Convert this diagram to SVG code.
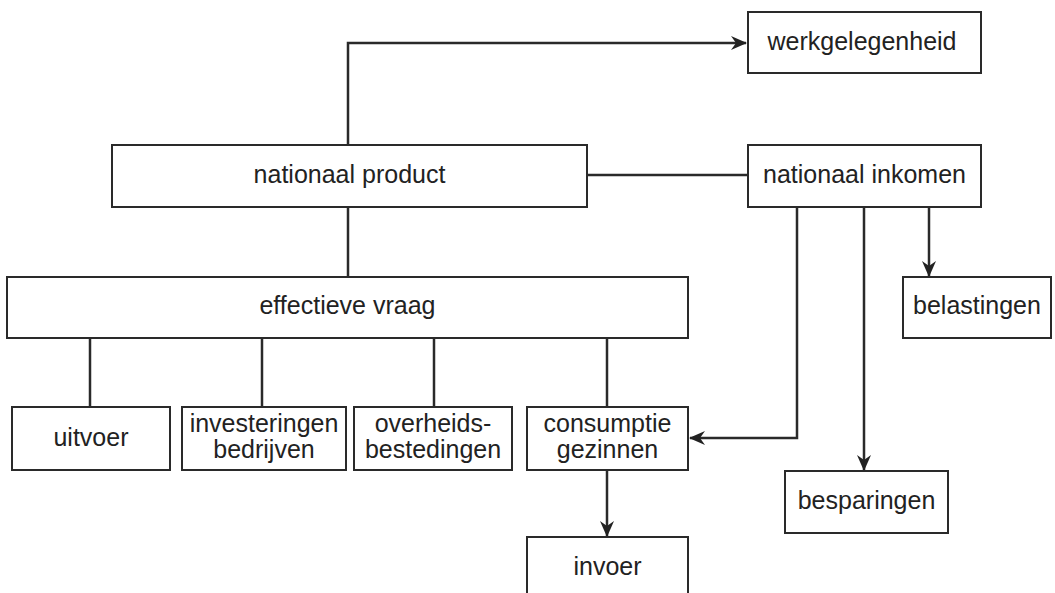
<svg xmlns="http://www.w3.org/2000/svg" width="1055" height="593" viewBox="0 0 1055 593">
<style>
.box{fill:#fff;stroke:#2a2a2a;stroke-width:2}
.lbl{font-family:"Liberation Sans",Arial,sans-serif;font-size:25px;fill:#222;text-anchor:middle}
.ln{fill:none;stroke:#2a2a2a;stroke-width:2.5}
.arr{fill:none;stroke:#2a2a2a;stroke-width:2.5;marker-end:url(#ah)}
</style>
<defs>
<marker id="ah" viewBox="0 0 16 14" refX="15" refY="7" markerWidth="16" markerHeight="14" markerUnits="userSpaceOnUse" orient="auto">
<path d="M0,0 L16,7 L0,14 L5,7 Z" fill="#222"/>
</marker>
</defs>
<rect width="1055" height="593" fill="#fff"/>
<g id="connectors">
<path class="arr" d="M348,145 V43 H746"/>
<path class="ln" d="M348,207 V277"/>
<path class="ln" d="M587,175 H748"/>
<path class="ln" d="M90,338 V407"/>
<path class="ln" d="M262,338 V407"/>
<path class="ln" d="M434,338 V407"/>
<path class="ln" d="M607,338 V407"/>
<path class="arr" d="M797,207 V438 H690"/>
<path class="arr" d="M864,207 V470"/>
<path class="arr" d="M929,207 V276"/>
<path class="arr" d="M607,470 V536"/>
</g>
<g id="werkgelegenheid"><rect class="box" x="748" y="12" width="233" height="61"/><text class="lbl" x="862" y="50">werkgelegenheid</text></g>
<g id="nationaal-product"><rect class="box" x="112" y="145" width="475" height="62"/><text class="lbl" x="349.5" y="183">nationaal product</text></g>
<g id="nationaal-inkomen"><rect class="box" x="748" y="145" width="233" height="62"/><text class="lbl" x="864.5" y="183">nationaal inkomen</text></g>
<g id="effectieve-vraag"><rect class="box" x="7" y="277" width="681" height="61"/><text class="lbl" x="347.5" y="314">effectieve vraag</text></g>
<g id="belastingen"><rect class="box" x="903" y="277" width="148" height="61"/><text class="lbl" x="977" y="314">belastingen</text></g>
<g id="uitvoer"><rect class="box" x="12" y="407" width="158" height="63"/><text class="lbl" x="91" y="446">uitvoer</text></g>
<g id="investeringen-bedrijven"><rect class="box" x="182" y="407" width="164" height="63"/><text class="lbl" x="264" y="432">investeringen</text><text class="lbl" x="264" y="458">bedrijven</text></g>
<g id="overheidsbestedingen"><rect class="box" x="354" y="407" width="158" height="63"/><text class="lbl" x="433" y="432">overheids-</text><text class="lbl" x="433" y="458">bestedingen</text></g>
<g id="consumptie-gezinnen"><rect class="box" x="527" y="407" width="161" height="63"/><text class="lbl" x="607.5" y="432">consumptie</text><text class="lbl" x="607.5" y="458">gezinnen</text></g>
<g id="besparingen"><rect class="box" x="785" y="471" width="163" height="62"/><text class="lbl" x="866.5" y="509">besparingen</text></g>
<g id="invoer"><rect class="box" x="527" y="537" width="161" height="70"/><text class="lbl" x="607.5" y="575">invoer</text></g>
</svg>
